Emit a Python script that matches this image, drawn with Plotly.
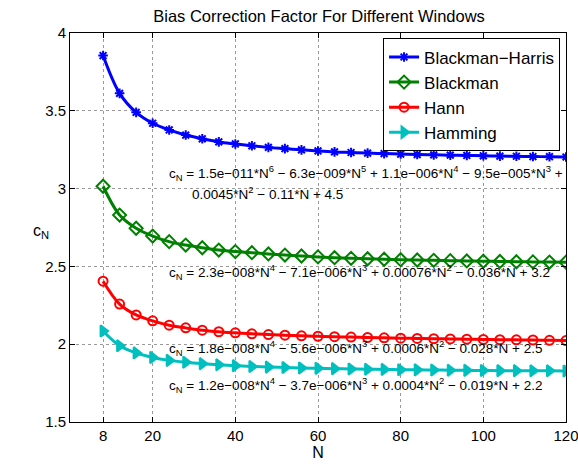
import plotly.graph_objects as go

N = [8, 12, 16, 20, 24, 28, 32, 36, 40, 44, 48, 52, 56, 60, 64, 68, 72, 76, 80,
     84, 88, 92, 96, 100, 104, 108, 112, 116, 120]

blackman_harris = [3.855, 3.612, 3.490, 3.420, 3.377, 3.344, 3.320, 3.300, 3.287,
                   3.275, 3.265, 3.257, 3.249, 3.242, 3.236, 3.232, 3.228, 3.225,
                   3.222, 3.219, 3.217, 3.215, 3.213, 3.211, 3.209, 3.208, 3.206,
                   3.205, 3.203]
blackman = [3.015, 2.830, 2.745, 2.695, 2.659, 2.637, 2.620, 2.605, 2.595, 2.588,
            2.580, 2.573, 2.567, 2.561, 2.556, 2.552, 2.549, 2.546, 2.543, 2.541,
            2.539, 2.537, 2.535, 2.533, 2.532, 2.530, 2.529, 2.528, 2.527]
hann = [2.405, 2.258, 2.188, 2.150, 2.122, 2.105, 2.090, 2.080, 2.073, 2.067, 2.062,
        2.058, 2.054, 2.051, 2.048, 2.046, 2.043, 2.041, 2.039, 2.037, 2.035, 2.034,
        2.032, 2.031, 2.029, 2.028, 2.027, 2.025, 2.023]
hamming = [2.085, 1.990, 1.944, 1.915, 1.896, 1.884, 1.875, 1.868, 1.862, 1.857,
           1.853, 1.850, 1.847, 1.845, 1.843, 1.841, 1.839, 1.838, 1.836, 1.835,
           1.834, 1.833, 1.832, 1.831, 1.830, 1.830, 1.829, 1.829, 1.828]

series_names = ["Blackman\u2212Harris", "Blackman", "Hann", "Hamming"]
series_values = [blackman_harris, blackman, hann, hamming]
colors = ["#0000FF", "#008000", "#FF0000", "#00BFBF"]
symbols = ["asterisk-open", "diamond-open", "circle-open", "triangle-right"]
sizes = [8, 10, 9, 10]

x_ticks = [8, 20, 40, 60, 80, 100, 120]
y_ticks = [1.5, 2, 2.5, 3, 3.5, 4]
y_tick_labels = ["1.5", "2", "2.5", "3", "3.5", "4"]

fit_texts = [
    "c<sub>N</sub> = 1.5e\u2212011*N<sup>6</sup> \u2212 6.3e\u2212009*N<sup>5</sup> + 1.1e\u2212006*N<sup>4</sup> \u2212 9.5e\u2212005*N<sup>3</sup> +",
    "0.0045*N<sup>2</sup> \u2212 0.11*N + 4.5",
    "c<sub>N</sub> = 2.3e\u2212008*N<sup>4</sup> \u2212 7.1e\u2212006*N<sup>3</sup> + 0.00076*N<sup>2</sup> \u2212 0.036*N + 3.2",
    "c<sub>N</sub> = 1.8e\u2212008*N<sup>4</sup> \u2212 5.6e\u2212006*N<sup>3</sup> + 0.0006*N<sup>2</sup> \u2212 0.028*N + 2.5",
    "c<sub>N</sub> = 1.2e\u2212008*N<sup>4</sup> \u2212 3.7e\u2212006*N<sup>3</sup> + 0.0004*N<sup>2</sup> \u2212 0.019*N + 2.2",
]
fit_x = [23.4, 29.0, 23.4, 23.4, 23.4]
fit_y = [3.10, 2.972, 2.464, 1.976, 1.735]

FONT = "Liberation Sans, Arial, Helvetica, sans-serif"

fig = go.Figure()
for name, vals, col, sym, sz in zip(series_names, series_values, colors, symbols, sizes):
    fig.add_trace(go.Scatter(
        x=N, y=vals, name=name, mode="lines+markers",
        line=dict(color=col, width=3, shape="spline"),
        marker=dict(symbol=sym, size=sz, color=col, line=dict(color=col, width=2)),
    ))

for t, xx, yy in zip(fit_texts, fit_x, fit_y):
    fig.add_annotation(x=xx, y=yy, xref="x", yref="y", text=t, showarrow=False,
                       xanchor="left", yanchor="middle",
                       font=dict(family=FONT, size=13.5, color="black"))

fig.add_annotation(x=-0.078, y=0.49, xref="paper", yref="paper",
                   text="c<sub>N</sub>", showarrow=False,
                   font=dict(family=FONT, size=16, color="black"))

axis_common = dict(
    showline=True, linecolor="black", linewidth=1, mirror="allticks",
    ticks="inside", ticklen=5, tickcolor="black",
    showgrid=True, gridcolor="#9a9a9a", griddash="dot", gridwidth=1,
    zeroline=False, tickfont=dict(family=FONT, size=15, color="black"),
    automargin=False, ticklabeloverflow="allow",
)

fig.update_layout(
    width=578, height=465,
    margin=dict(l=70, r=12, t=33, b=43),
    paper_bgcolor="white", plot_bgcolor="white",
    font=dict(family=FONT, color="black"),
    title=dict(text="Bias Correction Factor For Different Windows", x=0.552, xanchor="center",
               y=0.966, yanchor="middle", font=dict(family=FONT, size=16.5, color="black")),
    xaxis=dict(range=[0, 120], tickvals=x_ticks,
               title=dict(text="N", font=dict(family=FONT, size=16), standoff=2),
               **axis_common),
    yaxis=dict(range=[1.5, 4], tickvals=y_ticks, ticktext=y_tick_labels, **axis_common),
    legend=dict(x=0.988, y=0.986, xanchor="right", yanchor="top",
                bordercolor="black", borderwidth=1, bgcolor="white",
                font=dict(family=FONT, size=17, color="black"),
                tracegroupgap=0, itemwidth=30),
    showlegend=True,
)

fig.write_html("out.html", config={"displayModeBar": False},
               post_script="document.body.style.margin='0';")
